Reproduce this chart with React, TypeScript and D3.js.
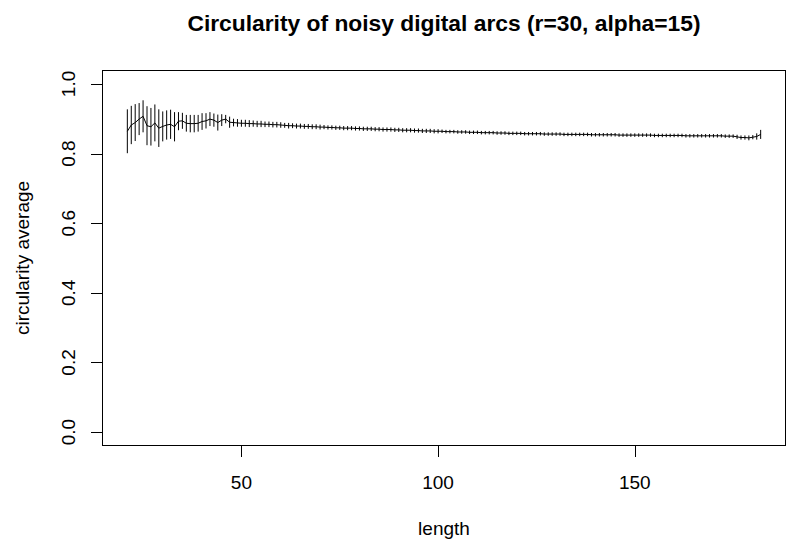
import * as d3 from 'd3';

// arc lengths (x)
const lengths = [
  21, 22, 23, 24, 25, 26, 27, 28, 29, 30,
  31, 32, 33, 34, 35, 36, 37, 38, 39, 40,
  41, 42, 43, 44, 45, 46, 47, 48, 49, 50,
  51, 52, 53, 54, 55, 56, 57, 58, 59, 60,
  61, 62, 63, 64, 65, 66, 67, 68, 69, 70,
  71, 72, 73, 74, 75, 76, 77, 78, 79, 80,
  81, 82, 83, 84, 85, 86, 87, 88, 89, 90,
  91, 92, 93, 94, 95, 96, 97, 98, 99, 100,
  101, 102, 103, 104, 105, 106, 107, 108, 109, 110,
  111, 112, 113, 114, 115, 116, 117, 118, 119, 120,
  121, 122, 123, 124, 125, 126, 127, 128, 129, 130,
  131, 132, 133, 134, 135, 136, 137, 138, 139, 140,
  141, 142, 143, 144, 145, 146, 147, 148, 149, 150,
  151, 152, 153, 154, 155, 156, 157, 158, 159, 160,
  161, 162, 163, 164, 165, 166, 167, 168, 169, 170,
  171, 172, 173, 174, 175, 176, 177, 178, 179, 180,
  181, 182,
];

// circularity average (mean line)
const means = [
  0.864, 0.882, 0.889, 0.899, 0.907, 0.880, 0.877, 0.888, 0.873, 0.878,
  0.882, 0.884, 0.877, 0.893, 0.894, 0.887, 0.886, 0.886, 0.887, 0.892,
  0.894, 0.899, 0.896, 0.889, 0.896, 0.899, 0.890, 0.889, 0.888, 0.887,
  0.887, 0.886, 0.886, 0.885, 0.885, 0.884, 0.884, 0.883, 0.883, 0.882,
  0.881, 0.880, 0.880, 0.879, 0.879, 0.878, 0.878, 0.877, 0.877, 0.876,
  0.876, 0.875, 0.875, 0.874, 0.874, 0.873, 0.873, 0.873, 0.872, 0.872,
  0.871, 0.871, 0.871, 0.870, 0.870, 0.869, 0.869, 0.869, 0.868, 0.868,
  0.867, 0.867, 0.867, 0.866, 0.866, 0.865, 0.865, 0.865, 0.864, 0.864,
  0.864, 0.863, 0.863, 0.863, 0.862, 0.862, 0.862, 0.861, 0.861, 0.861,
  0.860, 0.860, 0.860, 0.860, 0.859, 0.859, 0.859, 0.858, 0.858, 0.858,
  0.858, 0.857, 0.857, 0.857, 0.857, 0.857, 0.856, 0.856, 0.856, 0.856,
  0.856, 0.855, 0.855, 0.855, 0.855, 0.855, 0.855, 0.855, 0.854, 0.854,
  0.854, 0.854, 0.854, 0.854, 0.854, 0.853, 0.853, 0.853, 0.853, 0.853,
  0.853, 0.853, 0.853, 0.853, 0.852, 0.852, 0.852, 0.852, 0.852, 0.852,
  0.852, 0.852, 0.851, 0.851, 0.851, 0.851, 0.851, 0.851, 0.851, 0.851,
  0.851, 0.851, 0.850, 0.850, 0.850, 0.848, 0.846, 0.846, 0.845, 0.847,
  0.849, 0.855,
];

// half height of each error bar
const spreads = [
  0.063, 0.055, 0.053, 0.046, 0.046, 0.056, 0.054, 0.053, 0.054, 0.043,
  0.042, 0.042, 0.042, 0.026, 0.023, 0.024, 0.025, 0.025, 0.024, 0.024,
  0.022, 0.020, 0.019, 0.023, 0.017, 0.012, 0.016, 0.011, 0.011, 0.010,
  0.010, 0.010, 0.009, 0.009, 0.009, 0.008, 0.008, 0.008, 0.008, 0.008,
  0.007, 0.008, 0.007, 0.007, 0.007, 0.007, 0.007, 0.007, 0.007, 0.007,
  0.006, 0.006, 0.006, 0.006, 0.006, 0.006, 0.006, 0.006, 0.006, 0.006,
  0.006, 0.006, 0.006, 0.006, 0.006, 0.006, 0.006, 0.006, 0.006, 0.006,
  0.006, 0.006, 0.006, 0.006, 0.006, 0.006, 0.006, 0.006, 0.006, 0.006,
  0.005, 0.005, 0.005, 0.005, 0.005, 0.005, 0.005, 0.005, 0.005, 0.005,
  0.005, 0.005, 0.005, 0.005, 0.005, 0.005, 0.005, 0.005, 0.005, 0.005,
  0.005, 0.005, 0.005, 0.005, 0.005, 0.005, 0.005, 0.005, 0.005, 0.005,
  0.005, 0.005, 0.005, 0.005, 0.005, 0.005, 0.005, 0.005, 0.005, 0.005,
  0.005, 0.005, 0.005, 0.005, 0.005, 0.005, 0.005, 0.005, 0.005, 0.005,
  0.005, 0.005, 0.005, 0.005, 0.005, 0.005, 0.005, 0.005, 0.005, 0.005,
  0.005, 0.005, 0.005, 0.005, 0.005, 0.005, 0.005, 0.005, 0.005, 0.005,
  0.005, 0.005, 0.005, 0.005, 0.005, 0.006, 0.006, 0.006, 0.007, 0.006,
  0.009, 0.013,
];

const xTicks = [50, 100, 150];
const yTicks = [0, 0.2, 0.4, 0.6, 0.8, 1.0];

const title = 'Circularity of noisy digital arcs (r=30, alpha=15)';
const xLabel = 'length';
const yLabel = 'circularity average';

const W = 789;
const H = 544;
const plot = { left: 102, right: 786, top: 70, bottom: 446 };
const font = '"Liberation Sans", Arial, Helvetica, sans-serif';

export default function App() {
  // R style 4% padding on both axes
  const xPad = (182 - 21) * 0.04;
  const x = d3.scaleLinear().domain([21 - xPad, 182 + xPad]).range([plot.left, plot.right]);
  const y = d3.scaleLinear().domain([-0.04, 1.04]).range([plot.bottom, plot.top]);

  const pts = lengths.map((l, i) => ({ l, m: means[i], s: spreads[i] }));
  const line = d3.line<any>().x(d => x(d.l)).y(d => y(d.m));

  const cx = (plot.left + plot.right) / 2;
  const cy = (plot.top + plot.bottom) / 2;

  return (
    <svg
      width={W}
      height={H}
      style={{ position: 'absolute', left: 0, top: 0, background: '#fff' }}
      fontFamily={font}
    >
      <rect width={W} height={H} fill="#fff" />
      <text x={cx} y={31} textAnchor="middle" fontSize={22.8} fontWeight="bold">
        {title}
      </text>

      {/* error bars */}
      <g stroke="#000" strokeWidth={1}>
        {pts.map(d => (
          <line key={d.l} x1={x(d.l)} x2={x(d.l)} y1={y(d.m - d.s)} y2={y(d.m + d.s)} />
        ))}
      </g>
      <path d={line(pts) || ''} fill="none" stroke="#000" strokeWidth={1} />

      {/* box */}
      <rect
        x={plot.left + 0.5}
        y={plot.top + 0.5}
        width={plot.right - plot.left - 1}
        height={plot.bottom - plot.top - 1}
        fill="none"
        stroke="#000"
      />

      {/* x axis */}
      <g stroke="#000">
        <line x1={x(xTicks[0])} x2={x(xTicks[xTicks.length - 1])} y1={plot.bottom - 0.5} y2={plot.bottom - 0.5} />
        {xTicks.map(t => (
          <line key={t} x1={Math.round(x(t)) + 0.5} x2={Math.round(x(t)) + 0.5} y1={plot.bottom} y2={plot.bottom + 11} />
        ))}
      </g>
      {xTicks.map(t => (
        <text key={t} x={x(t)} y={489} textAnchor="middle" fontSize={19}>
          {t}
        </text>
      ))}
      <text x={cx} y={535} textAnchor="middle" fontSize={19}>
        {xLabel}
      </text>

      {/* y axis */}
      <g stroke="#000">
        {yTicks.map(t => (
          <line key={t} x1={plot.left} x2={plot.left - 11} y1={Math.round(y(t)) + 0.5} y2={Math.round(y(t)) + 0.5} />
        ))}
      </g>
      {yTicks.map(t => (
        <text
          key={t}
          transform={`translate(75,${y(t)}) rotate(-90)`}
          textAnchor="middle"
          fontSize={19}
        >
          {t.toFixed(1)}
        </text>
      ))}
      <text transform={`translate(29,${cy}) rotate(-90)`} textAnchor="middle" fontSize={19}>
        {yLabel}
      </text>
    </svg>
  );
}
